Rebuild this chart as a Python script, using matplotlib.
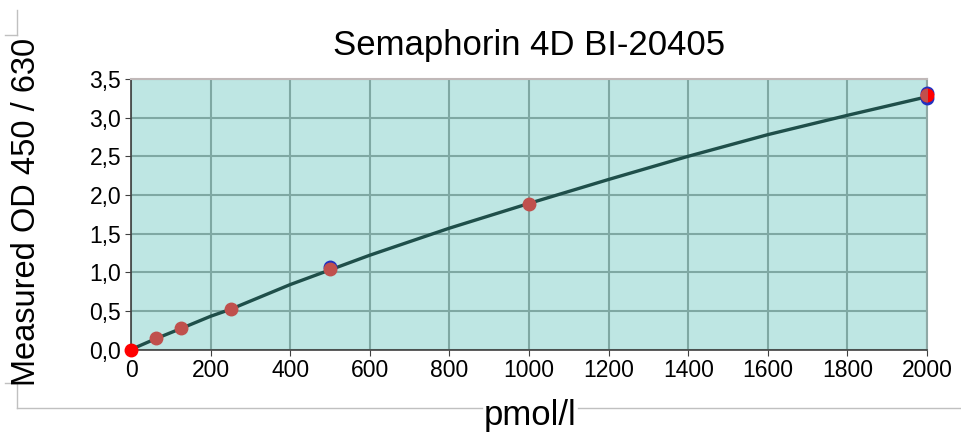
import matplotlib
matplotlib.use("Agg")
import matplotlib.pyplot as plt
from matplotlib.lines import Line2D

plt.rcParams['font.family'] = ['Liberation Sans', 'DejaVu Sans']

# standards (pmol/l) and mean OD
conc = [0, 62.5, 125, 250, 500, 1000, 2000]
od_mean = [0.0, 0.15, 0.28, 0.53, 1.04, 1.88, 3.29]

# replicate values visible behind the means
rep_x = [500, 2000, 2000]
rep_y = [1.07, 3.32, 3.25]

# fitted curve
fit_x = [0, 62.5, 125, 200, 250, 400, 500, 600, 800, 1000, 1200, 1400, 1600, 1800, 2000]
fit_y = [0.0, 0.14, 0.27, 0.43, 0.52, 0.84, 1.03, 1.22, 1.57, 1.89, 2.20, 2.50, 2.78, 3.03, 3.27]

xticks = list(range(0, 2001, 200))
yticks = [0, 0.5, 1.0, 1.5, 2.0, 2.5, 3.0, 3.5]
ylabels = ["0,0", "0,5", "1,0", "1,5", "2,0", "2,5", "3,0", "3,5"]

fig = plt.figure(figsize=(9.61, 4.34), dpi=100)
ax = fig.add_axes([131/961, 1 - 349.5/434, 796/961, 270.5/434])
ax.set_facecolor("#BEE6E3")

ax.set_xlim(0, 2000)
ax.set_ylim(0, 3.5)
ax.set_xticks(xticks)
ax.set_yticks(yticks)
ax.set_yticklabels(ylabels)
ax.grid(True, color="#7FA8A3", linewidth=1.5)
ax.set_axisbelow(True)
ax.tick_params(length=4, color="#404040", pad=3, labelsize=16.5)

for s in ["left", "bottom"]:
    ax.spines[s].set_color("#404040")
    ax.spines[s].set_linewidth(1.2)
ax.spines["top"].set_color("#C0B8B8")
ax.spines["right"].set_color("#8FA8A5")
ax.spines["top"].set_linewidth(1.5)
ax.spines["right"].set_linewidth(1.5)

ax.plot(fit_x, fit_y, color="#1F4F4A", linewidth=2.4, zorder=3)

ax.plot(rep_x, rep_y, "o", color="#2030C0", markersize=9, clip_on=False, zorder=3.5)
# bright red endpoints, drawn beyond the axes
ax.plot([conc[-1]], [od_mean[-1]], "o", color="#FF0000", markersize=9, clip_on=False, zorder=4)
ax.plot(conc[1:], od_mean[1:], "o", color="#C0504D", markersize=9, zorder=5)
ax.plot([conc[0]], [od_mean[0]], "o", color="#FF0000", markersize=9, clip_on=False, zorder=6)

ax.set_title("Semaphorin 4D BI-20405", fontsize=25, pad=17)
fig.text(27/961, 1 - 212/434, "Measured OD 450 / 630", rotation=90, fontsize=23.5,
         ha="center", va="center")
fig.text(530/961, 1 - 416/434, "pmol/l", fontsize=25, ha="center", va="center")

# frame marks around the plot area
gray = "#C0C0C0"
fig.add_artist(Line2D([17/961, 17/961], [1 - 10/434, 1 - 35/434], color=gray, lw=1))
fig.add_artist(Line2D([5/961, 17/961], [1 - 35/434, 1 - 35/434], color=gray, lw=1))
fig.add_artist(Line2D([5/961, 17/961], [1 - 383/434, 1 - 383/434], color=gray, lw=1))
fig.add_artist(Line2D([17/961, 17/961], [1 - 383/434, 1 - 408/434], color=gray, lw=1))
fig.add_artist(Line2D([17/961, 482/961], [1 - 408/434, 1 - 408/434], color=gray, lw=1))
fig.add_artist(Line2D([578/961, 961/961], [1 - 408/434, 1 - 408/434], color=gray, lw=1))

fig.savefig("out.png", dpi=100)
